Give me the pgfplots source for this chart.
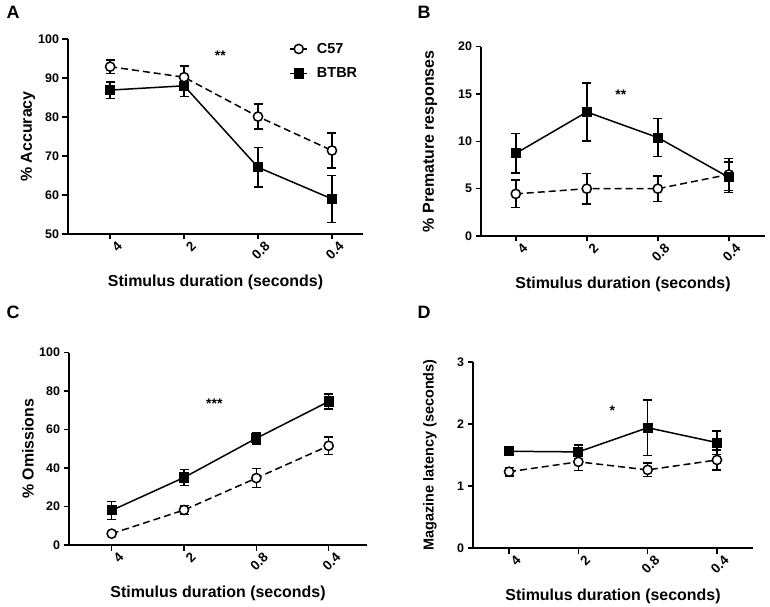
\documentclass[border=0pt]{standalone}
\usepackage{fontspec}
\setmainfont{Liberation Sans}
\usepackage{pgfplots}
\pgfplotsset{compat=1.18}

\pgfplotsset{
  panel/.style={
    scale only axis, clip=false,
    axis lines=left,
    axis line style={-, black, line width=1.5bp},
    every outer x axis line/.append style={-},
    every outer y axis line/.append style={-},
    tick align=outside, major tick length=5.5bp,
    tick style={black, line width=1.5bp},
    xtick={0,1,2,3}, xticklabels={4,2,0.8,0.4},
    yticklabel style={font=\bfseries\fontsize{12.5}{15}\selectfont},
    /pgf/number format/assume math mode=true,
    xticklabel style={font=\bfseries\fontsize{13.5}{15}\selectfont,
      rotate=45, anchor=east, inner sep=1bp, yshift=-10bp, xshift=4.5bp},
    label style={font=\bfseries\fontsize{16}{18}\selectfont},
    xlabel={Stimulus duration (seconds)},
    xlabel style={at={(axis description cs:0.5,0)}, anchor=center, yshift=-48bp},
  },
  c57/.style={black, line width=1.5bp, dash pattern=on 7bp off 4bp,
    mark=*, mark size=4.6bp, mark options={solid, fill=white, draw=black},
    error bars/.cd, y dir=both, y explicit,
    error bar style={solid, line width=1.5bp},
    error mark options={solid, rotate=90, line width=1.5bp, mark size=4.5bp}},
  btbr/.style={black, line width=1.5bp, solid,
    mark=square*, mark size=4.3bp, mark options={solid, fill=black},
    error bars/.cd, y dir=both, y explicit,
    error bar style={solid, line width=1.5bp},
    error mark options={solid, rotate=90, line width=1.5bp, mark size=4.5bp}},
}
\newcommand{\letterfont}{\bfseries\fontsize{18}{20}\selectfont}
\newcommand{\starfont}{\bfseries\fontsize{14}{16}\selectfont}

\begin{document}
\begin{tikzpicture}
\useasboundingbox (0,0) rectangle (770bp,607bp);

% A
\begin{axis}[panel, at={(68bp,373bp)}, anchor=south west,
  width=295bp, height=195bp, xmin=-0.57, xmax=3.42,
  ymin=50, ymax=100, ytick={50,60,70,80,90,100},
  ylabel={\% Accuracy},
  ylabel style={at={(axis description cs:-0.136,0.5)}, anchor=center},
  legend cell align=left,
  legend style={draw=none, fill=none, at={(axis description cs:0.74,1.0)},
    anchor=north west, font=\bfseries\fontsize{14.5}{16}\selectfont,
    row sep=9bp},
]
\addplot[c57] coordinates {
  (0,92.9) +- (0,1.7) (1,90.2) +- (0,2.9) (2,80.1) +- (0,3.2) (3,71.4) +- (0,4.5)};
\addplot[btbr] coordinates {
  (0,86.9) +- (0,2.1) (1,88.0) +- (0,2.7) (2,67.1) +- (0,5.1) (3,59.0) +- (0,6.0)};
\legend{\hspace{7bp}C57, \hspace{7bp}BTBR}
\node[font=\starfont] at (axis cs:1.49,95.6) {**};
\end{axis}

% B
\begin{axis}[panel, at={(481bp,371bp)}, anchor=south west,
  width=284bp, height=189.3bp, xmin=-0.49, xmax=3.51,
  ymin=0, ymax=20, ytick={0,5,10,15,20},
  ylabel={\% Premature responses},
  ylabel style={at={(axis description cs:-0.18,0.5)}, anchor=center},
]
\addplot[c57] coordinates {
  (0,4.45) +- (0,1.45) (1,5.0) +- (0,1.6) (2,5.0) +- (0,1.35) (3,6.5) +- (0,1.7)};
\addplot[btbr] coordinates {
  (0,8.73) +- (0,2.1) (1,13.1) +- (0,3.05) (2,10.4) +- (0,2.0) (3,6.2) +- (0,1.6)};
\node[font=\starfont] at (axis cs:1.48,14.9) {**};
\end{axis}

% C
\begin{axis}[panel, at={(69bp,62bp)}, anchor=south west,
  width=298bp, height=192.3bp, xmin=-0.59, xmax=3.53,
  ymin=0, ymax=100, ytick={0,20,40,60,80,100},
  ylabel={\% Omissions},
  ylabel style={at={(axis description cs:-0.138,0.5)}, anchor=center},
]
\addplot[c57] coordinates {
  (0,5.9) +- (0,1.0) (1,18.2) +- (0,2.4) (2,34.8) +- (0,5.0) (3,51.6) +- (0,4.5)};
\addplot[btbr] coordinates {
  (0,18.0) +- (0,4.7) (1,35.1) +- (0,4.2) (2,55.5) +- (0,3.0) (3,74.6) +- (0,3.8)};
\node[font=\starfont] at (axis cs:1.42,73.5) {***};
\end{axis}

% D
\begin{axis}[panel, at={(473bp,59bp)}, anchor=south west,
  width=280bp, height=186bp, xmin=-0.52, xmax=3.52,
  ymin=0, ymax=3, ytick={0,1,2,3},
  ylabel={Magazine latency (seconds)},
  ylabel style={at={(axis description cs:-0.154,0.5)}, anchor=center,
    font=\bfseries\fontsize{14.5}{16}\selectfont},
]
\addplot[c57] coordinates {
  (0,1.23) +- (0,0.07) (1,1.39) +- (0,0.14) (2,1.26) +- (0,0.11) (3,1.42) +- (0,0.16)};
\addplot[btbr] coordinates {
  (0,1.56) +- (0,0.04) (1,1.55) +- (0,0.11) (2,1.94) +- (0,0.45) (3,1.70) +- (0,0.19)};
\node[font=\starfont] at (axis cs:1.49,2.22) {*};
\end{axis}

\node[font=\letterfont] at (13bp,595bp) {A};
\node[font=\letterfont] at (424bp,595bp) {B};
\node[font=\letterfont] at (13bp,295bp) {C};
\node[font=\letterfont] at (424bp,295bp) {D};
\end{tikzpicture}
\end{document}
